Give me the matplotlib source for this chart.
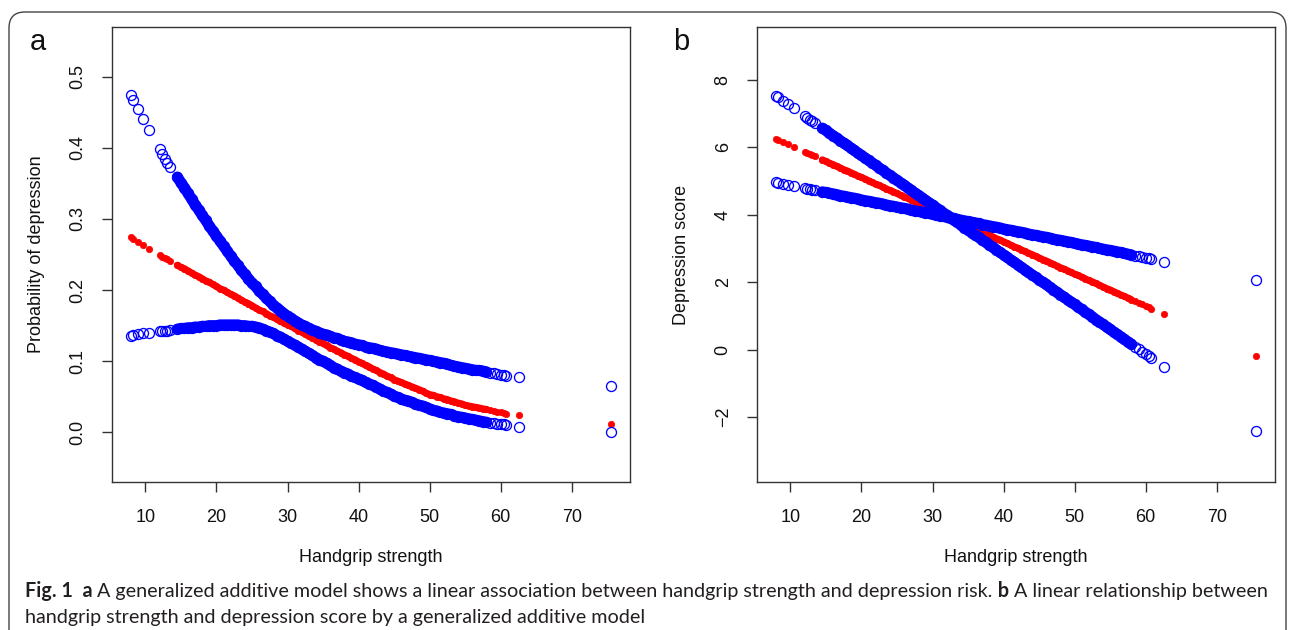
import matplotlib
matplotlib.use('Agg')
import matplotlib.pyplot as plt
from matplotlib.patches import FancyBboxPatch
from matplotlib.transforms import IdentityTransform

# ---------------- data ----------------
grip = [8.0, 8.2, 9.0, 9.7, 10.5, 12.0, 12.4, 12.8, 13.1, 13.5,
        14.5, 15.0, 15.5, 16.0, 16.5, 17.0, 17.5, 18.0, 18.5, 19.0,
        19.5, 20.0, 20.5, 21.0, 21.5, 22.0, 22.5, 23.0, 23.5, 24.0,
        24.5, 25.0, 25.5, 26.0, 26.5, 27.0, 27.5, 28.0, 28.5, 29.0,
        29.5, 30.0, 30.5, 31.0, 31.5, 32.0, 32.5, 33.0, 33.5, 34.0,
        34.5, 35.0, 35.5, 36.0, 36.5, 37.0, 37.5, 38.0, 38.5, 39.0,
        39.5, 40.0, 40.5, 41.0, 41.5, 42.0, 42.5, 43.0, 43.5, 44.0,
        44.5, 45.0, 45.5, 46.0, 46.5, 47.0, 47.5, 48.0, 48.5, 49.0,
        49.5, 50.0, 50.5, 51.0, 51.5, 52.0, 52.5, 53.0, 53.5, 54.0,
        54.5, 55.0, 55.5, 56.0, 56.5, 57.0, 57.5, 58.0, 58.5, 59.0,
        59.5, 60.0, 60.4, 60.8, 62.6, 75.5]

prob_fit = [0.274, 0.272, 0.267, 0.263, 0.258, 0.249, 0.247, 0.245, 0.243, 0.241,
            0.235, 0.232, 0.230, 0.227, 0.224, 0.221, 0.219, 0.216, 0.213, 0.211,
            0.208, 0.205, 0.202, 0.200, 0.197, 0.194, 0.192, 0.189, 0.186, 0.183,
            0.181, 0.178, 0.175, 0.172, 0.170, 0.167, 0.164, 0.162, 0.159, 0.156,
            0.154, 0.151, 0.149, 0.146, 0.143, 0.141, 0.138, 0.135, 0.133, 0.130,
            0.127, 0.125, 0.122, 0.119, 0.117, 0.114, 0.112, 0.109, 0.107, 0.104,
            0.102, 0.099, 0.097, 0.094, 0.092, 0.089, 0.087, 0.084, 0.082, 0.079,
            0.077, 0.074, 0.072, 0.070, 0.068, 0.066, 0.064, 0.062, 0.060, 0.058,
            0.055, 0.053, 0.052, 0.050, 0.049, 0.047, 0.046, 0.044, 0.043, 0.041,
            0.040, 0.038, 0.037, 0.036, 0.035, 0.034, 0.033, 0.032, 0.031, 0.030,
            0.029, 0.028, 0.027, 0.026, 0.024, 0.011]

prob_upper = [0.474, 0.467, 0.454, 0.440, 0.425, 0.399, 0.391, 0.385, 0.379, 0.373,
              0.359, 0.351, 0.344, 0.336, 0.328, 0.320, 0.313, 0.305, 0.298, 0.290,
              0.283, 0.276, 0.269, 0.262, 0.255, 0.248, 0.241, 0.235, 0.228, 0.222,
              0.216, 0.210, 0.205, 0.199, 0.194, 0.189, 0.184, 0.179, 0.175, 0.171,
              0.167, 0.163, 0.160, 0.157, 0.154, 0.151, 0.149, 0.146, 0.144, 0.142,
              0.140, 0.138, 0.137, 0.135, 0.133, 0.132, 0.130, 0.128, 0.127, 0.126,
              0.124, 0.123, 0.122, 0.120, 0.119, 0.118, 0.117, 0.115, 0.114, 0.113,
              0.112, 0.111, 0.110, 0.109, 0.108, 0.107, 0.106, 0.105, 0.104, 0.103,
              0.102, 0.101, 0.100, 0.099, 0.098, 0.097, 0.096, 0.094, 0.093, 0.092,
              0.091, 0.090, 0.089, 0.088, 0.087, 0.087, 0.086, 0.085, 0.084, 0.083,
              0.082, 0.081, 0.080, 0.079, 0.077, 0.065]

prob_lower = [0.136, 0.137, 0.138, 0.139, 0.140, 0.142, 0.142, 0.143, 0.143, 0.144,
              0.145, 0.146, 0.146, 0.147, 0.147, 0.148, 0.148, 0.149, 0.149, 0.150,
              0.150, 0.150, 0.151, 0.151, 0.151, 0.151, 0.151, 0.151, 0.150, 0.150,
              0.149, 0.149, 0.148, 0.147, 0.145, 0.143, 0.141, 0.139, 0.136, 0.134,
              0.131, 0.128, 0.125, 0.123, 0.120, 0.117, 0.114, 0.111, 0.108, 0.105,
              0.102, 0.100, 0.097, 0.094, 0.091, 0.089, 0.086, 0.084, 0.082, 0.079,
              0.077, 0.075, 0.073, 0.070, 0.068, 0.066, 0.063, 0.061, 0.058, 0.056,
              0.054, 0.051, 0.049, 0.047, 0.045, 0.044, 0.042, 0.040, 0.038, 0.037,
              0.035, 0.033, 0.031, 0.030, 0.028, 0.027, 0.026, 0.025, 0.023, 0.022,
              0.021, 0.020, 0.019, 0.018, 0.017, 0.016, 0.015, 0.014, 0.013, 0.013,
              0.012, 0.011, 0.011, 0.010, 0.007, 0.001]

score_fit = [6.25, 6.23, 6.15, 6.09, 6.01, 5.87, 5.83, 5.79, 5.76, 5.73,
             5.63, 5.58, 5.53, 5.49, 5.44, 5.39, 5.34, 5.30, 5.25, 5.20,
             5.15, 5.11, 5.06, 5.01, 4.96, 4.91, 4.87, 4.82, 4.77, 4.72,
             4.68, 4.63, 4.58, 4.53, 4.49, 4.44, 4.39, 4.34, 4.29, 4.25,
             4.20, 4.15, 4.10, 4.06, 4.01, 3.96, 3.91, 3.87, 3.82, 3.77,
             3.72, 3.67, 3.63, 3.58, 3.53, 3.48, 3.44, 3.39, 3.34, 3.29,
             3.25, 3.20, 3.15, 3.10, 3.05, 3.01, 2.96, 2.91, 2.86, 2.82,
             2.77, 2.72, 2.67, 2.63, 2.58, 2.53, 2.48, 2.43, 2.39, 2.34,
             2.29, 2.24, 2.20, 2.15, 2.10, 2.05, 2.01, 1.96, 1.91, 1.86,
             1.81, 1.77, 1.72, 1.67, 1.62, 1.58, 1.53, 1.48, 1.43, 1.38,
             1.34, 1.29, 1.25, 1.21, 1.04, -0.19]

score_ci_steep = [7.53, 7.50, 7.38, 7.28, 7.16, 6.94, 6.88, 6.82, 6.78, 6.72,
                  6.57, 6.50, 6.42, 6.35, 6.28, 6.20, 6.13, 6.06, 5.98, 5.91,
                  5.83, 5.76, 5.69, 5.61, 5.54, 5.47, 5.39, 5.32, 5.24, 5.17,
                  5.10, 5.02, 4.95, 4.88, 4.80, 4.73, 4.65, 4.58, 4.51, 4.43,
                  4.36, 4.29, 4.21, 4.14, 4.06, 3.99, 3.92, 3.84, 3.77, 3.70,
                  3.62, 3.55, 3.47, 3.40, 3.33, 3.25, 3.18, 3.11, 3.03, 2.96,
                  2.88, 2.81, 2.74, 2.66, 2.59, 2.52, 2.44, 2.37, 2.29, 2.22,
                  2.15, 2.07, 2.00, 1.93, 1.85, 1.78, 1.70, 1.63, 1.56, 1.48,
                  1.41, 1.34, 1.26, 1.19, 1.11, 1.04, 0.97, 0.89, 0.82, 0.75,
                  0.67, 0.60, 0.52, 0.45, 0.38, 0.30, 0.23, 0.16, 0.08, 0.01,
                  -0.07, -0.14, -0.20, -0.26, -0.52, -2.43]

score_ci_flat = [4.96, 4.95, 4.92, 4.89, 4.85, 4.79, 4.77, 4.75, 4.74, 4.72,
                 4.68, 4.66, 4.64, 4.62, 4.60, 4.57, 4.55, 4.53, 4.51, 4.49,
                 4.47, 4.44, 4.42, 4.40, 4.38, 4.36, 4.34, 4.32, 4.29, 4.27,
                 4.25, 4.23, 4.21, 4.19, 4.17, 4.14, 4.12, 4.10, 4.08, 4.06,
                 4.04, 4.01, 3.99, 3.97, 3.95, 3.93, 3.91, 3.89, 3.86, 3.84,
                 3.82, 3.80, 3.78, 3.76, 3.74, 3.71, 3.69, 3.67, 3.65, 3.63,
                 3.61, 3.58, 3.56, 3.54, 3.52, 3.50, 3.48, 3.46, 3.43, 3.41,
                 3.39, 3.37, 3.35, 3.33, 3.31, 3.28, 3.26, 3.24, 3.22, 3.20,
                 3.18, 3.15, 3.13, 3.11, 3.09, 3.07, 3.05, 3.03, 3.00, 2.98,
                 2.96, 2.94, 2.92, 2.90, 2.88, 2.85, 2.83, 2.81, 2.79, 2.77,
                 2.75, 2.72, 2.71, 2.69, 2.61, 2.06]

x_ticks = [10, 20, 30, 40, 50, 60, 70]
prob_ticks = [0.0, 0.1, 0.2, 0.3, 0.4, 0.5]
prob_ticklabels = ["0.0", "0.1", "0.2", "0.3", "0.4", "0.5"]
score_ticks = [-2, 0, 2, 4, 6, 8]
score_ticklabels = ["\u22122", "0", "2", "4", "6", "8"]

x_label = "Handgrip strength"
ylabel_a = "Probability of depression"
ylabel_b = "Depression score"

# ---------------- figure ----------------
W, H, DPI = 1292, 630, 100
plt.rcParams['font.family'] = ['Liberation Sans', 'DejaVu Sans']
fig = plt.figure(figsize=(W / DPI, H / DPI), dpi=DPI)

def px_axes(left, top, right, bottom):
    return [left / W, 1 - bottom / H, (right - left) / W, (bottom - top) / H]

ax_a = fig.add_axes(px_axes(112, 27, 630, 482))
ax_b = fig.add_axes(px_axes(757, 27, 1275, 482))

spine_col = '#333333'

def style(ax, yticks, ylabels, ylim, ylabel):
    ax.set_xlim(5.3, 78.2)
    ax.set_ylim(*ylim)
    ax.set_xticks(x_ticks)
    ax.set_xticklabels([str(t) for t in x_ticks])
    ax.set_yticks(yticks)
    ax.set_yticklabels(ylabels, rotation=90, va='center')
    for s in ax.spines.values():
        s.set_color(spine_col)
        s.set_linewidth(1.0)
    ax.tick_params(axis='both', direction='out', length=7.2, width=1.0,
                   color=spine_col, labelsize=13, labelcolor='#111111')
    ax.tick_params(axis='x', pad=12.5)
    ax.tick_params(axis='y', pad=11)
    ax.set_xlabel(x_label, fontsize=13, color='#111111')
    ax.xaxis.label.set_verticalalignment('center')
    ax.xaxis.set_label_coords(0.5, -0.165)
    ax.set_ylabel(ylabel, fontsize=13, color='#111111')
    ax.yaxis.label.set_verticalalignment('center')
    ax.yaxis.set_label_coords(-0.1448, 0.5)

circ = dict(linestyle='none', marker='o', mfc='none', mec='blue', ms=7.2, mew=0.95)
dot = dict(linestyle='none', marker='o', mfc='red', mec='red', ms=4.6, mew=0.5)
# the bulk of the observations is so dense that the circles merge into a solid band
DENSE = slice(10, 98)
band_blue = dict(color='blue', lw=7.9, solid_capstyle='round', solid_joinstyle='round')
band_red = dict(color='red', lw=5.0, solid_capstyle='round', solid_joinstyle='round')

def draw(ax, fit, ci1, ci2):
    ax.plot(grip[DENSE], fit[DENSE], **band_red)
    ax.plot(grip, fit, **dot)
    for ci in (ci1, ci2):
        ax.plot(grip[DENSE], ci[DENSE], **band_blue)
        ax.plot(grip, ci, **circ)

draw(ax_a, prob_fit, prob_upper, prob_lower)
style(ax_a, prob_ticks, prob_ticklabels, (-0.07, 0.57), ylabel_a)

draw(ax_b, score_fit, score_ci_steep, score_ci_flat)
style(ax_b, score_ticks, score_ticklabels, (-3.93, 9.57), ylabel_b)

# panel letters
fig.text(38 / W, 1 - 42 / H, "a", fontsize=21, ha='center', va='center', color='#111111')
fig.text(681 / W, 1 - 42 / H, "b", fontsize=21, ha='center', va='center', color='#111111')

# rounded frame
frame = FancyBboxPatch((9, -40), 1277, 618 + 40, boxstyle="round,pad=0,rounding_size=16",
                       transform=IdentityTransform(), fill=False, edgecolor='#444444',
                       linewidth=1.0)
fig.add_artist(frame)

# caption
cap_color = '#231f20'
cap_fonts = ['Lato', 'DejaVu Sans']
line1 = [("Fig. 1", 'bold'), ("  a", 'bold'),
         (" A generalized additive model shows a linear association between handgrip strength and depression risk.", 'normal'),
         (" b", 'bold'), (" A linear relationship between", 'normal')]
line2 = [("handgrip strength and depression score by a generalized additive model", 'normal')]

renderer = fig.canvas.get_renderer()

def measure(pieces, size):
    total = 0.0
    for s, w in pieces:
        t = fig.text(0, 0, s, fontsize=size, fontweight=w, family=cap_fonts)
        total += t.get_window_extent(renderer).width
        t.remove()
    return total

cap_size = 12.0 * (1262 - 25) / measure(line1, 12.0)

def draw_line(pieces, x0, baseline_px):
    x = x0
    for s, w in pieces:
        t = fig.text(x / W, 1 - baseline_px / H, s, fontsize=cap_size, fontweight=w,
                     family=cap_fonts, color=cap_color, va='baseline', ha='left')
        x += t.get_window_extent(renderer).width

draw_line(line1, 25, 597)
draw_line(line2, 25, 623)

fig.savefig('out.png', dpi=DPI)
